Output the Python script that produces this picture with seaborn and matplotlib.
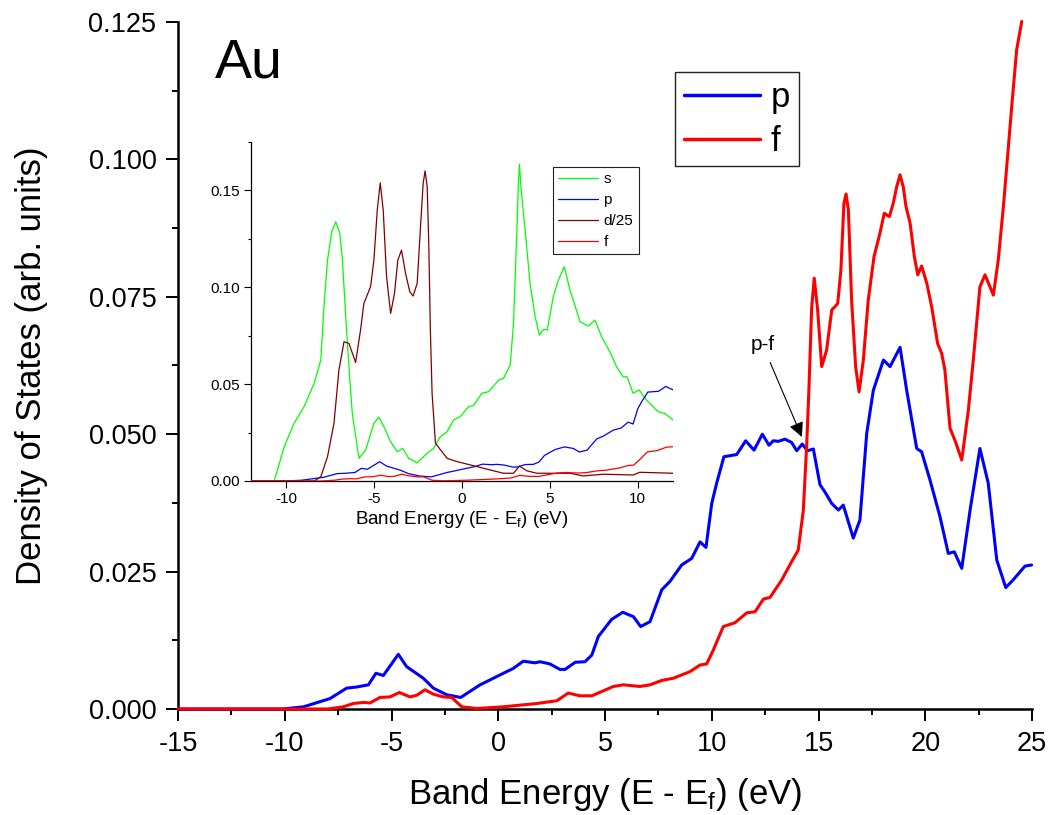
import numpy as np
import matplotlib
matplotlib.use("Agg")
import matplotlib.pyplot as plt
from matplotlib.ticker import MultipleLocator, FormatStrFormatter
import seaborn as sns

# ---------------- data ----------------
# main panel: p-DOS
p_E = [-15, -10.1, -9.12, -7.88, -7.1, -6.63, -6.08, -5.73, -5.38, -4.68, -4.29, -3.51,
       -3.04, -2.42, -1.76, -0.85, 0.24, 0.71, 1.17, 1.72, 1.96, 2.42, 2.89, 3.13, 3.6,
       4.06, 4.38, 4.69, 5.31, 5.83, 6.33, 6.67, 7.11, 7.66, 8.04, 8.59, 9.06, 9.45, 9.73,
       10.0, 10.23, 10.57, 11.17, 11.59, 11.98, 12.37, 12.68, 12.88, 13.12, 13.43, 13.74,
       13.98, 14.24, 14.48, 14.76, 15.07, 15.30, 15.62, 15.93, 16.16, 16.63, 16.94, 17.26,
       17.57, 18.04, 18.35, 18.82, 19.13, 19.6, 19.83, 20.22, 20.69, 21.08, 21.36, 21.71,
       22.1, 22.56, 22.95, 23.35, 23.77, 24.12, 24.67, 24.98]
p_dos = [0, 0, 0.0004, 0.0019, 0.0038, 0.0040, 0.0044, 0.0065, 0.0061, 0.00995, 0.0077,
         0.0056, 0.0038, 0.0026, 0.0021, 0.0044, 0.0065, 0.0074, 0.0087, 0.0084, 0.0086,
         0.0082, 0.0072, 0.0072, 0.0085, 0.0086, 0.0098, 0.0132, 0.0163, 0.0176, 0.0168,
         0.0150, 0.0159, 0.0217, 0.0232, 0.0262, 0.0274, 0.0304, 0.0294, 0.0374, 0.0411,
         0.0459, 0.0463, 0.0488, 0.0471, 0.0500, 0.0480, 0.0488, 0.0487, 0.0491, 0.0485,
         0.0470, 0.0482, 0.0470, 0.0473, 0.0408, 0.0395, 0.0374, 0.0362, 0.0371, 0.0311,
         0.0344, 0.0502, 0.0580, 0.0635, 0.0623, 0.0658, 0.0580, 0.0474, 0.0468, 0.0417,
         0.0350, 0.0283, 0.0286, 0.0256, 0.0362, 0.0474, 0.0411, 0.0271, 0.0221, 0.0235,
         0.0260, 0.0262]

# main panel: f-DOS
f_E = [-15, -8.0, -7.26, -6.79, -6.32, -6.01, -5.54, -5.07, -4.63, -4.13, -3.82, -3.43,
       -3.04, -2.57, -2.18, -1.71, -1.01, 0.24, 1.8, 2.74, 3.28, 3.83, 4.38, 4.92, 5.39,
       5.86, 6.64, 7.11, 7.66, 8.2, 8.98, 9.45, 9.76, 10.07, 10.54, 11.09, 11.64, 12.03,
       12.42, 12.73, 13.28, 13.74, 14.05, 14.29, 14.45, 14.55, 14.68, 14.80, 14.96, 15.15,
       15.38, 15.62, 15.77, 15.9, 16.05, 16.19, 16.29, 16.40, 16.55, 16.74, 16.9, 17.1,
       17.33, 17.6, 17.88, 18.08, 18.32, 18.5, 18.66, 18.82, 18.97, 19.1, 19.29, 19.49,
       19.65, 19.83, 20.07, 20.3, 20.58, 20.77, 20.92, 21.16, 21.39, 21.71, 22.02, 22.25,
       22.56, 22.8, 23.19, 23.42, 23.66, 24.05, 24.28, 24.52]
f_dos = [0, 0, 0.0004, 0.0010, 0.0012, 0.0011, 0.0021, 0.0022, 0.0030, 0.0022, 0.0025,
         0.0035, 0.0027, 0.0022, 0.0021, 0.0004, 0.0001, 0.0004, 0.0010, 0.0015, 0.0029,
         0.0024, 0.0024, 0.0033, 0.0041, 0.0044, 0.0041, 0.0044, 0.0052, 0.0056, 0.0068,
         0.0080, 0.0082, 0.0107, 0.0150, 0.0157, 0.0175, 0.0177, 0.0200, 0.0203, 0.0235,
         0.0268, 0.0289, 0.0362, 0.0483, 0.0580, 0.0730, 0.0784, 0.0726, 0.0623, 0.0653,
         0.0726, 0.0732, 0.0738, 0.0799, 0.0920, 0.0937, 0.0908, 0.0744, 0.0623, 0.0577,
         0.0635, 0.0744, 0.0823, 0.0866, 0.0902, 0.0896, 0.0920, 0.0950, 0.0972, 0.0950,
         0.0914, 0.0884, 0.0823, 0.0790, 0.0806, 0.0775, 0.0732, 0.0665, 0.0647, 0.0617,
         0.0511, 0.0489, 0.0453, 0.0544, 0.0635, 0.0768, 0.0790, 0.0753, 0.0817, 0.0914,
         0.1096, 0.1199, 0.1251]

# inset: s-DOS
s_E = [-12, -10.68, -10.11, -9.55, -8.98, -8.41, -8.03, -7.85, -7.65, -7.4, -7.18, -6.95,
       -6.8, -6.58, -6.4, -6.24, -5.86, -5.48, -5.01, -4.73, -4.44, -4.06, -3.68, -3.37,
       -3.03, -2.55, -1.98, -1.61, -1.23, -0.85, -0.48, -0.1, 0.38, 0.66, 1.13, 1.51, 2.08,
       2.36, 2.74, 2.93, 3.12, 3.2, 3.27, 3.35, 3.59, 3.87, 4.16, 4.4, 4.63, 4.85, 5.19,
       5.48, 5.82, 6.14, 6.42, 6.71, 7.18, 7.56, 7.94, 8.41, 8.79, 9.16, 9.39, 9.73, 10.07,
       10.49, 11.15, 11.53, 12.0]
s_dos = [0, 0, 0.0177, 0.0298, 0.0384, 0.0504, 0.0624, 0.0900, 0.1140, 0.1290, 0.1338,
         0.1280, 0.1140, 0.0800, 0.0550, 0.0349, 0.0117, 0.0160, 0.0298, 0.0329, 0.0280,
         0.0203, 0.0151, 0.0169, 0.0117, 0.0094, 0.0143, 0.0169, 0.0229, 0.0254, 0.0315,
         0.0332, 0.0384, 0.0390, 0.0453, 0.0461, 0.0521, 0.0530, 0.0599, 0.0814, 0.1295,
         0.1520, 0.1636, 0.1520, 0.1295, 0.1020, 0.0848, 0.0753, 0.0783, 0.0779, 0.0951,
         0.1037, 0.1106, 0.0986, 0.0908, 0.0822, 0.0800, 0.0831, 0.0745, 0.0667, 0.0590,
         0.0538, 0.0538, 0.0453, 0.0470, 0.0418, 0.0358, 0.0349, 0.0315]

# inset: d-DOS / 25
d_E = [-12, -8.4, -8.03, -7.65, -7.28, -7.0, -6.71, -6.43, -6.05, -5.77, -5.58, -5.2,
       -5.01, -4.82, -4.65, -4.48, -4.29, -4.06, -3.84, -3.65, -3.44, -3.21, -2.97, -2.78,
       -2.55, -2.36, -2.21, -2.1, -1.98, -1.89, -1.80, -1.70, -1.51, -0.85, -0.28, 0.47,
       1.6, 2.36, 2.93, 3.27, 3.68, 4.25, 6.14, 6.89, 8.03, 9.73, 10.11, 12.0]
d25_dos = [0, 0, 0.0022, 0.0125, 0.0298, 0.0573, 0.0719, 0.0710, 0.0612, 0.0779, 0.0917,
           0.1003, 0.1140, 0.1398, 0.1539, 0.1398, 0.1054, 0.0865, 0.0968, 0.1140, 0.1192,
           0.1072, 0.0977, 0.0955, 0.1020, 0.1312, 0.1536, 0.1601, 0.1519, 0.1227, 0.0779,
           0.0450, 0.0195, 0.0117, 0.0100, 0.0083, 0.0057, 0.0040, 0.0040, 0.0077, 0.0053,
           0.0040, 0.0040, 0.0026, 0.0035, 0.0031, 0.0045, 0.0040]

main_xticks = [-15, -10, -5, 0, 5, 10, 15, 20, 25]
main_yticks = [0.0, 0.025, 0.05, 0.075, 0.1, 0.125]
inset_xticks = [-10, -5, 0, 5, 10]
inset_yticks = [0.0, 0.05, 0.10, 0.15]

# ---------------- style ----------------
sns.set_style("ticks")
plt.rcParams["font.family"] = ["Liberation Sans", "DejaVu Sans"]
plt.rcParams["mathtext.fontset"] = "custom"
plt.rcParams["mathtext.rm"] = "Liberation Sans"
plt.rcParams["mathtext.it"] = "Liberation Sans:italic"
plt.rcParams["mathtext.default"] = "rm"
plt.rcParams["axes.unicode_minus"] = False
for k in ["text.color", "axes.labelcolor", "xtick.color", "ytick.color", "axes.edgecolor"]:
    plt.rcParams[k] = "black"

BLUE, RED, GREEN, DRED = "#0000FF", "#FF0000", "#00FF00", "#800000"
W, H = 1053, 815

fig = plt.figure(figsize=(W / 100, H / 100), dpi=100)
ax = fig.add_axes([178 / W, 1 - 709 / H, (1032 - 178) / W, (709 - 22) / H])

sns.lineplot(x=p_E, y=p_dos, ax=ax, color=BLUE, linewidth=2.2, label="p",
             clip_on=False, zorder=3)
sns.lineplot(x=f_E, y=f_dos, ax=ax, color=RED, linewidth=2.2, label="f",
             clip_on=False, zorder=3)

ax.set_xlim(-15, 25)
ax.set_ylim(0, 0.125)
ax.set_xticks(main_xticks)
ax.set_yticks(main_yticks)
ax.xaxis.set_minor_locator(MultipleLocator(2.5))
ax.yaxis.set_minor_locator(MultipleLocator(0.0125))
ax.yaxis.set_major_formatter(FormatStrFormatter("%.3f"))
for s in ["top", "right"]:
    ax.spines[s].set_visible(False)
for s in ["left", "bottom"]:
    ax.spines[s].set_linewidth(1.8)
ax.tick_params(which="major", direction="out", length=8.5, width=1.4,
               labelsize=19.5, pad=7)
ax.tick_params(which="minor", direction="out", length=4.5, width=1.4)
ax.set_xlabel(r"Band Energy (E - E$_{\mathrm{f}}$) (eV)", fontsize=25, labelpad=14)
ax.set_ylabel("Density of States (arb. units)", fontsize=25, labelpad=29)

ax.text((215 - 178) / 854, (709 - 77) / 687, "Au", transform=ax.transAxes,
        fontsize=40, va="baseline", ha="left")

leg = ax.legend(loc="upper left", bbox_to_anchor=((675 - 178) / 854, (709 - 72) / 687),
                borderaxespad=0, fontsize=25, handlelength=2.2, handletextpad=0.3,
                labelspacing=0.32, borderpad=0.25, frameon=True, fancybox=False,
                framealpha=1, edgecolor="#222222")
leg.get_frame().set_linewidth(1.0)
for ln in leg.get_lines():
    ln.set_linewidth(2.5)

ax.annotate("p-f", xy=(14.22, 0.0495), xytext=(12.38, 0.0663),
            ha="center", va="center", fontsize=15,
            arrowprops=dict(arrowstyle="-|>", color="black", lw=0.8,
                            mutation_scale=22, shrinkA=4, shrinkB=0))

# ---------------- inset ----------------
axi = fig.add_axes([251 / W, 1 - 481 / H, (673 - 251) / W, (481 - 142) / H])
axi.set_facecolor("white")
sns.lineplot(x=s_E, y=s_dos, ax=axi, color=GREEN, linewidth=0.9, label="s", zorder=3)
sns.lineplot(x=p_E, y=p_dos, ax=axi, color=BLUE, linewidth=0.9, label="p", zorder=3)
sns.lineplot(x=d_E, y=d25_dos, ax=axi, color=DRED, linewidth=0.9, label="d/25", zorder=3)
sns.lineplot(x=f_E, y=f_dos, ax=axi, color=RED, linewidth=0.9, label="f", zorder=3)
axi.set_xlim(-12, 12)
axi.set_ylim(0, 0.175)
axi.set_xticks(inset_xticks)
axi.set_yticks(inset_yticks)
axi.yaxis.set_minor_locator(MultipleLocator(0.025))
axi.yaxis.set_major_formatter(FormatStrFormatter("%.2f"))
for s in ["top", "right"]:
    axi.spines[s].set_visible(False)
for s in ["left", "bottom"]:
    axi.spines[s].set_linewidth(0.9)
axi.tick_params(which="major", direction="out", length=5, width=0.8,
                labelsize=11, pad=3)
axi.tick_params(which="minor", direction="out", length=2.5, width=0.8)
axi.set_xlabel(r"Band Energy (E - E$_{\mathrm{f}}$) (eV)", fontsize=13.5, labelpad=2)
axi.set_ylabel("")
legi = axi.legend(loc="upper left", bbox_to_anchor=((553 - 251) / 422, (481 - 167) / 339),
                  borderaxespad=0, fontsize=11, handlelength=2.6, handletextpad=0.35,
                  labelspacing=0.45, borderpad=0.35, frameon=True, fancybox=False,
                  framealpha=1, edgecolor="#222222")
legi.get_frame().set_linewidth(0.8)

fig.savefig("out.png", dpi=100)
